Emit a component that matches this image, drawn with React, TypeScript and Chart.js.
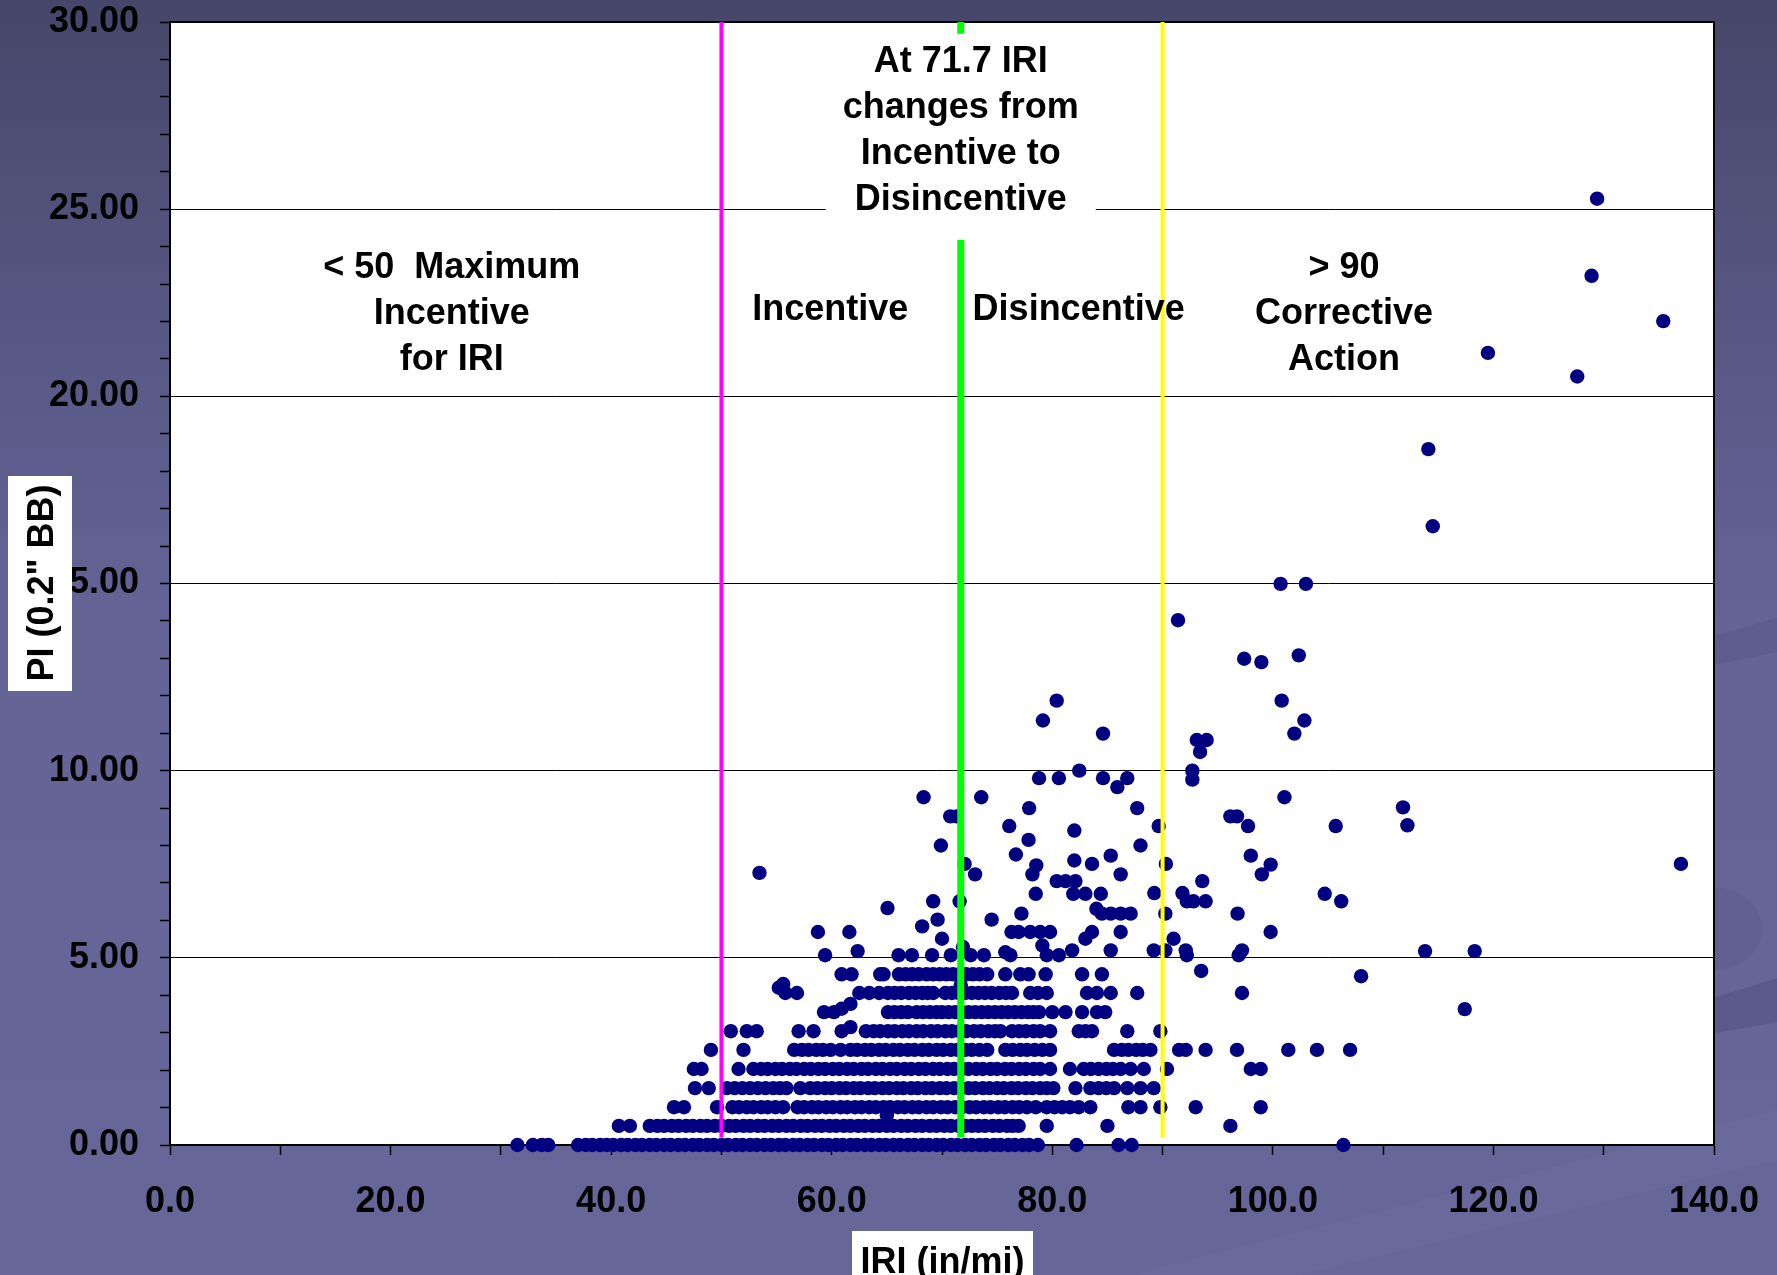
import React, { useEffect, useRef } from 'react';
import { Chart, registerables } from 'chart.js';

Chart.register(...registerables);

// PI (0.2" BB) levels at which the dense bands of sections sit
const piLevels = [0, 0.51, 1.01, 1.52, 2.03, 2.54, 3.04, 3.55, 4.06, 4.56, 5.07];

// IRI (in/mi) of the sections found at each PI level
const iriAtPi000 = [31.5, 32.9, 33.7, 34.3, 37.0, 37.7, 38.3, 39.0, 39.6, 40.2, 40.9, 41.5, 42.2, 42.8, 43.5, 44.1, 44.8, 45.4, 46.1, 46.7, 47.4, 48.0, 48.7, 49.3, 50.0, 50.6, 51.3, 51.9, 52.6, 53.2, 53.9, 54.5, 55.2, 55.8, 56.5, 57.1, 57.8, 58.4, 59.1, 59.7, 60.4, 61.0, 61.7, 62.3, 63.0, 63.6, 64.3, 64.9, 65.6, 66.2, 66.9, 67.5, 68.2, 68.8, 69.5, 70.1, 70.8, 71.4, 72.1, 72.7, 73.4, 74.0, 74.7, 75.3, 76.0, 76.6, 77.3, 77.9, 78.7, 82.2, 86.0, 87.2, 106.4];
const iriAtPi051 = [40.7, 41.7, 43.5, 44.2, 44.8, 45.5, 46.1, 46.8, 47.4, 48.1, 48.7, 49.4, 50.0, 50.7, 51.3, 52.0, 52.6, 53.3, 53.9, 54.6, 55.2, 55.9, 56.5, 57.2, 57.8, 58.5, 59.1, 59.8, 60.4, 61.1, 61.7, 62.4, 63.0, 63.7, 64.3, 65.0, 65.6, 66.3, 66.9, 67.6, 68.2, 68.9, 69.5, 70.2, 70.8, 71.5, 72.1, 72.7, 73.3, 73.9, 74.6, 75.2, 75.9, 76.4, 76.95, 79.5, 85.0, 96.15];
const iriAtPi101 = [45.7, 46.6, 49.6, 51.0, 51.6, 52.3, 52.9, 53.6, 54.2, 54.9, 55.6, 56.9, 57.5, 58.2, 58.8, 59.5, 60.1, 60.8, 61.4, 62.1, 62.7, 63.4, 64.0, 64.7, 65.3, 66.0, 66.6, 67.3, 67.9, 68.6, 69.2, 69.9, 70.5, 71.2, 71.8, 72.5, 73.1, 73.8, 74.4, 75.1, 75.7, 76.4, 77.0, 77.7, 78.5, 79.5, 80.2, 80.9, 81.6, 82.4, 83.45, 86.9, 88.0, 89.8, 93.0, 98.9];
const iriAtPi152 = [47.6, 48.85, 50.5, 51.2, 51.9, 52.6, 53.3, 54.0, 54.7, 55.3, 55.9, 57.15, 58.05, 58.7, 59.4, 60.0, 60.7, 61.3, 62.0, 62.6, 63.3, 63.9, 64.6, 65.2, 65.9, 66.5, 67.2, 67.8, 68.5, 69.1, 69.8, 70.4, 71.1, 71.7, 72.4, 73.0, 73.7, 74.3, 75.0, 75.6, 76.3, 76.9, 77.6, 78.2, 78.9, 79.5, 80.1, 82.1, 83.45, 84.2, 84.9, 85.6, 86.8, 88.0, 89.2];
const iriAtPi203 = [47.5, 48.2, 51.55, 52.9, 53.6, 54.2, 54.9, 55.5, 56.2, 56.8, 57.5, 58.1, 58.8, 59.4, 60.1, 60.7, 61.4, 62.0, 62.7, 63.3, 64.0, 64.6, 65.3, 65.9, 66.6, 67.2, 67.9, 68.5, 69.2, 69.8, 70.5, 71.1, 71.8, 72.4, 73.1, 73.7, 74.4, 75.0, 75.7, 76.3, 77.0, 77.6, 78.3, 78.9, 79.8, 81.6, 82.85, 83.5, 84.2, 84.9, 85.5, 86.2, 87.1, 88.3, 90.4, 98.0, 98.9];
const iriAtPi254 = [49.05, 52.0, 56.6, 57.3, 57.9, 58.6, 59.2, 59.9, 60.8, 61.7, 62.3, 63.0, 63.6, 64.3, 64.9, 65.6, 66.2, 66.9, 67.5, 68.2, 68.8, 69.5, 70.1, 70.8, 71.4, 72.1, 72.7, 73.4, 74.1, 75.74, 76.4, 77.1, 77.7, 78.4, 79.1, 79.8, 85.6, 86.3, 86.9, 87.6, 88.2, 88.9, 91.5, 92.1, 93.9, 96.75, 101.4, 104.0, 107.0];
const iriAtPi304 = [50.85, 52.3, 53.2, 57.0, 58.35, 60.9, 63.1, 63.8, 64.4, 65.1, 65.7, 66.4, 67.0, 67.7, 68.3, 69.0, 69.6, 70.3, 70.9, 71.6, 72.2, 72.9, 73.5, 74.2, 74.8, 75.3, 76.35, 77.0, 77.6, 78.3, 78.9, 79.8, 82.4, 83.0, 83.6, 86.8, 89.8];
const iriAtPi355 = [59.3, 60.2, 65.1, 65.7, 66.3, 66.9, 67.7, 68.3, 68.9, 69.5, 70.0, 70.6, 71.2, 71.8, 72.4, 73.0, 73.6, 74.2, 74.8, 75.4, 76.0, 76.6, 77.2, 77.8, 78.3, 78.8, 80.0, 81.2, 82.7, 84.05, 84.8];
const iriAtPi406 = [55.8, 56.85, 62.5, 63.4, 64.3, 65.1, 65.7, 66.3, 67.0, 67.6, 68.2, 68.7, 69.2, 70.3, 70.9, 71.5, 72.1, 72.7, 73.3, 73.9, 74.5, 75.2, 75.8, 76.35, 78.0, 78.7, 79.5, 83.15, 84.05, 85.3, 87.7, 97.2];
const iriAtPi456 = [60.9, 61.8, 64.4, 64.7, 66.1, 66.7, 67.3, 67.9, 68.6, 69.2, 69.8, 70.4, 71.0, 71.6, 72.2, 72.8, 73.4, 74.1, 75.74, 77.1, 77.85, 79.4, 82.7, 84.5];
const iriAtPi507 = [59.4, 66.06, 67.27, 69.1, 70.8, 72.6, 73.8, 76.2, 79.5, 80.6, 92.2, 96.9];

const iriByLevel = [iriAtPi000, iriAtPi051, iriAtPi101, iriAtPi152, iriAtPi203, iriAtPi254, iriAtPi304, iriAtPi355, iriAtPi406, iriAtPi456, iriAtPi507];

// Sections away from the main bands: [IRI, PI]
const scatteredSections: [number, number][] = [
  [65.0, 0.79], [61.7, 3.15], [60.9, 3.64], [61.7, 3.77], [55.2, 4.2], [55.6, 4.3], [71.7, 4.27], [93.5, 4.65],
  [62.35, 5.18], [75.74, 5.15], [71.9, 5.29], [79.1, 5.33], [81.8, 5.2], [85.3, 5.2], [89.2, 5.2], [90.25, 5.2],
  [92.1, 5.2], [97.2, 5.2], [113.8, 5.18], [118.3, 5.18], [117.4, 3.63], [108.0, 4.51],
  [58.75, 5.69], [61.6, 5.69], [70.0, 5.51], [68.2, 5.84], [69.6, 6.02], [65.06, 6.33], [69.2, 6.51], [71.6, 6.51],
  [83.0, 5.51], [91.0, 5.51], [76.3, 5.69], [76.95, 5.69], [78.0, 5.69], [78.9, 5.69], [79.8, 5.69], [83.6, 5.69],
  [86.2, 5.69], [99.8, 5.69], [77.2, 6.18], [74.5, 6.02], [84.0, 6.31], [84.5, 6.18], [85.3, 6.18], [86.2, 6.18],
  [87.1, 6.18], [90.25, 6.18], [96.8, 6.18], [78.5, 6.71], [81.9, 6.71], [83.0, 6.71], [84.4, 6.71], [89.25, 6.73],
  [91.8, 6.73], [92.2, 6.51], [92.8, 6.51], [93.9, 6.51], [104.7, 6.71], [106.2, 6.51],
  [80.4, 7.05], [81.2, 7.05], [82.1, 7.05], [93.6, 7.05], [73.0, 7.23], [78.2, 7.23], [86.2, 7.23], [99.0, 7.23],
  [72.05, 7.51], [78.55, 7.47], [82.0, 7.6], [83.6, 7.51], [85.3, 7.73], [90.3, 7.51], [98.0, 7.73], [99.8, 7.49],
  [76.7, 7.76], [53.45, 7.27], [137.0, 7.51],
  [69.9, 8.0], [88.0, 8.0], [77.85, 8.15], [82.0, 8.4], [76.1, 8.52], [89.65, 8.52], [97.75, 8.52], [105.7, 8.52],
  [112.2, 8.54], [70.75, 8.78], [71.35, 8.78], [96.15, 8.78], [96.75, 8.78], [77.9, 9.0], [87.7, 9.0], [111.8, 9.02],
  [68.33, 9.29], [73.56, 9.29], [101.05, 9.29],
  [85.9, 9.56], [78.8, 9.8], [80.6, 9.8], [84.6, 9.8], [86.8, 9.8], [82.45, 10.0], [92.7, 10.0], [92.7, 9.76],
  [93.4, 10.5], [93.1, 10.82], [94.0, 10.82], [84.6, 10.99], [101.95, 10.99], [79.15, 11.34], [102.86, 11.34],
  [80.4, 11.87], [100.8, 11.87],
  [97.4, 12.99], [98.96, 12.9], [102.35, 13.08], [91.4, 14.02], [100.7, 14.99], [103.0, 14.99], [114.5, 16.53],
  [114.1, 18.59], [127.6, 20.53], [119.5, 21.16], [135.4, 22.01], [128.9, 23.22], [129.4, 25.28],
];

// IRI thresholds between the pay-adjustment zones
const maxIncentiveIri = 50;
const changeoverIri = 71.7;
const correctiveIri = 90;

const zoneLabels = [
  { lines: ['< 50  Maximum', 'Incentive', 'for IRI'], iri: 25.55, pi: 23.17 },
  { lines: ['Incentive'], iri: 59.87, pi: 22.05 },
  { lines: ['Disincentive'], iri: 82.39, pi: 22.05 },
  { lines: ['> 90', 'Corrective', 'Action'], iri: 106.45, pi: 23.17 },
];
const changeoverNote = { lines: ['At 71.7 IRI', 'changes from', 'Incentive to', 'Disincentive'], iri: 71.7, pi: 28.67 };

const FONT_FAMILY = '"Liberation Sans", Arial, Helvetica, sans-serif';
const BOLD_FONT = `bold 36px ${FONT_FAMILY}`;
const LINE_GAP = 46;

const slideBackground = {
  id: 'slideBackground',
  beforeDraw(chart: any) {
    const { ctx, width, height, chartArea } = chart;
    ctx.save();
    const g = ctx.createLinearGradient(0, 0, 0, height);
    g.addColorStop(0, '#46466a');
    g.addColorStop(0.3, '#5a5a88');
    g.addColorStop(0.5, '#646497');
    g.addColorStop(1, '#666699');
    ctx.fillStyle = g;
    ctx.fillRect(0, 0, width, height);

    // template swooshes at the right-hand edge
    ctx.fillStyle = 'rgba(40,40,80,0.10)';
    ctx.beginPath();
    ctx.moveTo(1700, 640);
    ctx.lineTo(1777, 618);
    ctx.lineTo(1777, 652);
    ctx.lineTo(1700, 668);
    ctx.closePath();
    ctx.fill();

    ctx.fillStyle = 'rgba(40,40,80,0.08)';
    ctx.beginPath();
    ctx.ellipse(1712, 929, 50, 42, 0, 0, Math.PI * 2);
    ctx.fill();

    ctx.fillStyle = 'rgba(40,40,80,0.18)';
    ctx.beginPath();
    ctx.moveTo(1700, 1002);
    ctx.lineTo(1777, 978);
    ctx.lineTo(1777, 1022);
    ctx.lineTo(1700, 1036);
    ctx.closePath();
    ctx.fill();

    ctx.fillStyle = 'rgba(255,255,255,0.025)';
    ctx.beginPath();
    ctx.moveTo(1130, 1275);
    ctx.lineTo(1777, 1110);
    ctx.lineTo(1777, 1160);
    ctx.lineTo(1300, 1275);
    ctx.closePath();
    ctx.fill();

    // white plotting area
    ctx.fillStyle = '#ffffff';
    ctx.fillRect(chartArea.left, chartArea.top, chartArea.right - chartArea.left, chartArea.bottom - chartArea.top);
    ctx.restore();
  },
  beforeDatasetsDraw(chart: any) {
    const { ctx, chartArea } = chart;
    ctx.save();
    ctx.strokeStyle = '#000';
    ctx.lineWidth = 2;
    ctx.strokeRect(chartArea.left, chartArea.top, chartArea.right - chartArea.left, chartArea.bottom - chartArea.top);
    ctx.restore();
  },
  afterDatasetsDraw(chart: any) {
    const { ctx, chartArea } = chart;
    const xs = chart.scales.x;
    const ys = chart.scales.y;
    const lineBottom = ys.getPixelForValue(0.2);
    ctx.save();

    const vline = (iri: number, color: string, w: number) => {
      const px = xs.getPixelForValue(iri);
      ctx.strokeStyle = color;
      ctx.lineWidth = w;
      ctx.beginPath();
      ctx.moveTo(px, chartArea.top);
      ctx.lineTo(px, lineBottom);
      ctx.stroke();
    };
    vline(maxIncentiveIri, '#ff00ff', 4);
    vline(changeoverIri, '#00ff00', 7);
    vline(correctiveIri, '#ffff00', 4);

    ctx.font = BOLD_FONT;
    ctx.textAlign = 'center';
    ctx.textBaseline = 'alphabetic';

    // note box over the changeover line
    const nx = xs.getPixelForValue(changeoverNote.iri);
    const ny = ys.getPixelForValue(changeoverNote.pi);
    const widest = Math.max(...changeoverNote.lines.map((l) => ctx.measureText(l).width));
    const boxLeft = nx - widest / 2 - 17;
    const boxTop = ny - 38;
    const boxBottom = ny + (changeoverNote.lines.length - 1) * LINE_GAP + 30;
    ctx.fillStyle = '#ffffff';
    ctx.fillRect(boxLeft, boxTop, widest + 34, boxBottom - boxTop);
    ctx.fillStyle = '#000';
    changeoverNote.lines.forEach((l, i) => ctx.fillText(l, nx, ny + i * LINE_GAP));

    zoneLabels.forEach((z) => {
      const px = xs.getPixelForValue(z.iri);
      const py = ys.getPixelForValue(z.pi);
      z.lines.forEach((l, i) => ctx.fillText(l, px, py + i * LINE_GAP));
    });

    // axis titles on white panels
    ctx.fillStyle = '#ffffff';
    ctx.fillRect(852, 1231, 181, 50);
    ctx.fillStyle = '#000';
    ctx.fillText('IRI (in/mi)', 942.5, 1273);

    ctx.fillStyle = '#ffffff';
    ctx.fillRect(8, 476, 64, 215);
    ctx.translate(40, 583);
    ctx.rotate(-Math.PI / 2);
    ctx.fillStyle = '#000';
    ctx.fillText('PI (0.2" BB)', 0, 13);
    ctx.restore();
  },
};

export default function App() {
  const canvasRef = useRef<HTMLCanvasElement | null>(null);

  useEffect(() => {
    if (!canvasRef.current) return;
    const points: { x: number; y: number }[] = [];
    iriByLevel.forEach((row, i) => row.forEach((iri) => points.push({ x: iri, y: piLevels[i] })));
    scatteredSections.forEach(([iri, pi]) => points.push({ x: iri, y: pi }));

    const tickFont = { family: FONT_FAMILY, size: 36, weight: 'bold' as const };

    const chart = new Chart(canvasRef.current, {
      type: 'scatter',
      data: {
        datasets: [
          {
            label: 'PI vs IRI',
            data: points,
            pointRadius: 7.2,
            pointHoverRadius: 7.2,
            pointBackgroundColor: '#000080',
            pointBorderWidth: 0,
            clip: false as any,
          },
        ],
      },
      options: {
        responsive: false,
        animation: false,
        devicePixelRatio: 1,
        events: [],
        layout: { padding: { left: 0, top: 22, right: 63, bottom: 0 } },
        plugins: { legend: { display: false }, tooltip: { enabled: false } },
        scales: {
          x: {
            type: 'linear',
            min: 0,
            max: 140,
            afterFit: (s: any) => {
              s.height = 130;
              s.paddingLeft = 0;
              s.paddingRight = 0;
            },
            ticks: {
              stepSize: 10,
              autoSkip: false,
              maxRotation: 0,
              padding: 25,
              color: '#000',
              font: tickFont,
              callback: (v: any) => (Number(v) % 20 === 0 ? Number(v).toFixed(1) : ''),
            },
            grid: { drawOnChartArea: false, tickLength: 10, tickColor: '#000', tickWidth: 1.5 },
            border: { color: '#000', width: 2 },
          },
          y: {
            type: 'linear',
            min: 0,
            max: 30,
            afterFit: (s: any) => {
              s.width = 170;
              s.paddingTop = 0;
              s.paddingBottom = 0;
            },
            ticks: {
              stepSize: 1,
              autoSkip: false,
              padding: 21,
              color: '#000',
              font: tickFont,
              callback: (v: any) => (Number(v) % 5 === 0 ? Number(v).toFixed(2) : ''),
            },
            grid: {
              color: (c: any) => (c.tick && c.tick.value % 5 === 0 ? '#000' : 'rgba(0,0,0,0)'),
              lineWidth: 1,
              tickLength: 10,
              tickColor: '#000',
              tickWidth: 1.5,
            },
            border: { color: '#000', width: 2 },
          },
        },
      },
      plugins: [slideBackground],
    });
    return () => chart.destroy();
  }, []);

  return (
    <div style={{ position: 'absolute', left: 0, top: 0, width: 1777, height: 1275, overflow: 'hidden' }}>
      <canvas ref={canvasRef} width={1777} height={1275} style={{ display: 'block', width: 1777, height: 1275 }} />
    </div>
  );
}
